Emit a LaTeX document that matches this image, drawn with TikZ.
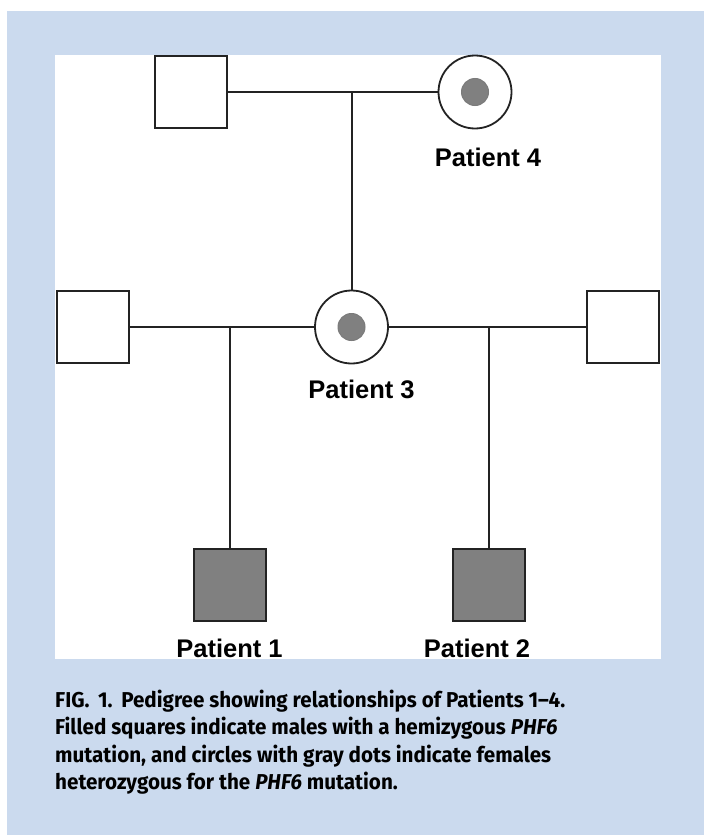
\documentclass[tikz,border=0pt]{standalone}
\usepackage{fontspec}
\setmainfont{Liberation Sans}
\newfontfamily\capfont[FakeStretch=0.96, Ligatures=TeX]{Fira Sans}
\usetikzlibrary{positioning}
\definecolor{capblue}{RGB}{203,218,238}
\definecolor{ink}{RGB}{35,35,35}
\definecolor{fillgray}{RGB}{128,128,128}

\begin{document}
\begin{tikzpicture}[x=1pt,y=-1pt]
	\tikzset{male/.style={rectangle, draw=ink, line width=2pt, minimum size=72pt, inner sep=0pt, fill=white},
		affected/.style={male, fill=fillgray},
		carrier/.style={circle, draw=ink, line width=1.8pt, minimum size=73pt, inner sep=0pt, fill=white,
			path picture={\fill[fillgray, draw=ink!60, line width=1pt] (path picture bounding box.center) circle (13.5pt);}},
		tag/.style={font=\bfseries\fontsize{25.5}{30}\selectfont, anchor=base, inner sep=0pt},
		link/.style={draw=ink, line width=2pt}}
	\useasboundingbox (0,0) rectangle (704,835);
	\fill[capblue] (7,11) rectangle (704,835);
	\fill[white] (55,55) rectangle (661,659);
	
	% grandparents
	\node[male] (gf) at (190.5,92) {};
	\node[carrier] (p4) at (475,92) {};
	\coordinate (gc) at (351.5,92);
	% parents
	\node[carrier] (p3) at (351.5,327) {};
	\node[male] (fa) at (92.5,327) {};
	\node[male] (fb) at (623,327) {};
	% children
	\node[affected] (p1) at (230,585) {};
	\node[affected] (p2) at (488.5,585) {};
	
	\node[tag] (l4) at (488,166.5) {Patient 4};
	\node[tag] (l3) at (361.5,398) {Patient 3};
	\node[tag] (l1) at (229.5,657) {Patient 1};
	\node[tag] (l2) at (477,657) {Patient 2};
	
	\draw[link] (gf) -- (p4);
	\draw[link] (gc) -- (p3);
	\draw[link] (fa) -- (p3) -- (fb);
	\draw[link] (p1 |- p3) -- (p1);
	\draw[link] (p2 |- p3) -- (p2);
	
	% caption, base is the last line
	\node[anchor=base west, align=left, inner sep=0pt, font=\capfont\bfseries\fontsize{21.5}{27.5}\selectfont] (cap) at (55,789.5)
		{FIG.\hspace{.4em}1.\hspace{.4em}Pedigree showing relationships of Patients 1--4.\\
		Filled squares indicate males with a hemizygous \textit{PHF6}\\
		mutation, and circles with gray dots indicate females\\
		heterozygous for the \textit{PHF6} mutation.};
\end{tikzpicture}
\end{document}
